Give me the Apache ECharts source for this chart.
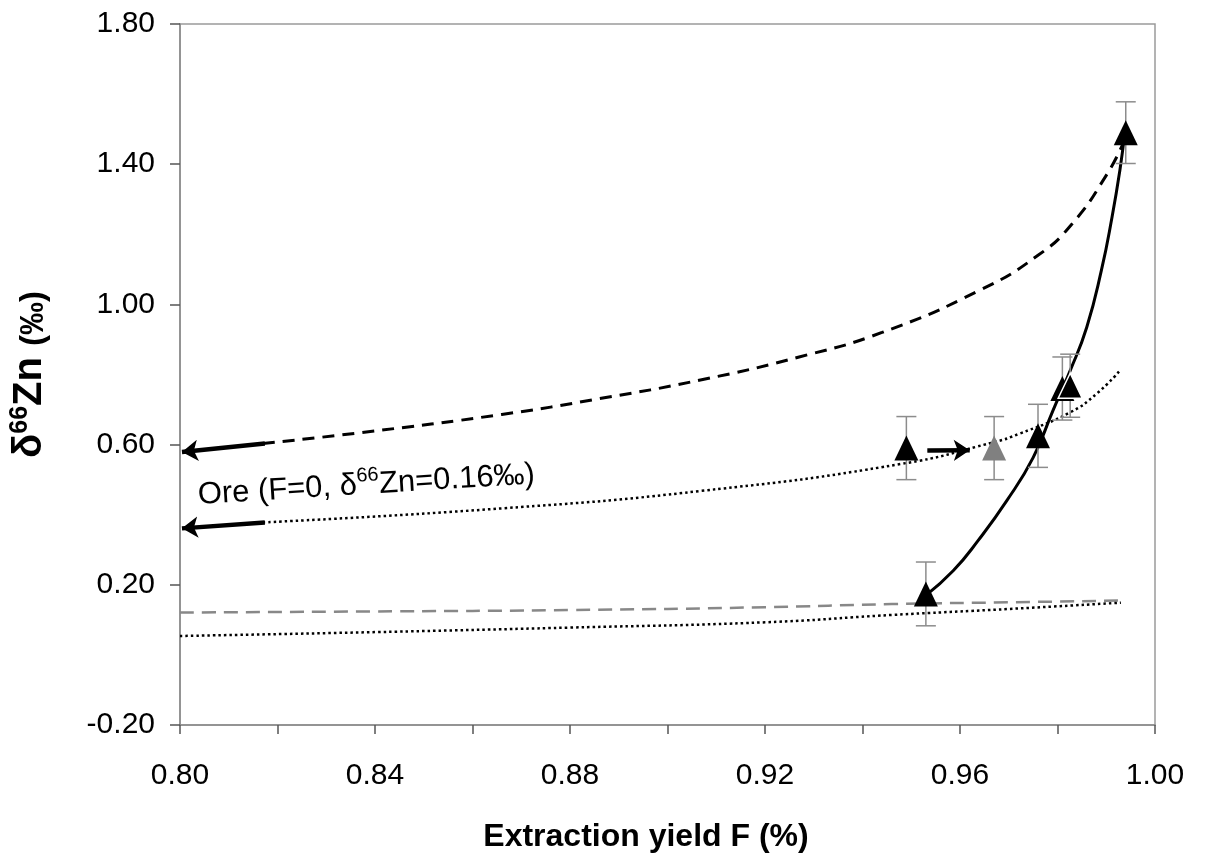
<!DOCTYPE html>
<html>
<head>
<meta charset="utf-8">
<script src="https://cdn.jsdelivr.net/npm/echarts@6/dist/echarts.min.js"></script>
<style>
  html, body { margin: 0; padding: 0; background: #fff; }
  #chart { width: 1206px; height: 861px; }
</style>
</head>
<body>
<div id="chart"></div>
<script>
// ---- data ----
const xTickLabels = ['0.80', '0.84', '0.88', '0.92', '0.96', '1.00'];
const yTickLabels = ['-0.20', '0.20', '0.60', '1.00', '1.40', '1.80'];

// upper dashed model curve
const dashedUpperF = [0.817, 0.837, 0.866, 0.886, 0.907, 0.927, 0.944, 0.964, 0.976, 0.983, 0.990, 0.9935];
const dashedUpperD = [0.603, 0.634, 0.686, 0.731, 0.785, 0.850, 0.920, 1.040, 1.140, 1.230, 1.368, 1.460];

// upper dotted model curve
const dottedUpperF = [0.817, 0.866, 0.907, 0.948, 0.967, 0.972, 0.9826, 0.9881, 0.9928];
const dottedUpperD = [0.378, 0.418, 0.468, 0.545, 0.607, 0.630, 0.692, 0.746, 0.811];

// solid curve through the measurements
const solidF = [0.953, 0.9586, 0.9637, 0.9696, 0.9750, 0.9790, 0.9826, 0.9860, 0.9890, 0.9912, 0.9928, 0.9938];
const solidD = [0.170, 0.240, 0.326, 0.440, 0.563, 0.695, 0.811, 0.935, 1.097, 1.250, 1.383, 1.490];

// lower grey dashed curve
const dashedLowerF = [0.80, 0.84, 0.88, 0.92, 0.946, 0.97, 0.993];
const dashedLowerD = [0.121, 0.124, 0.128, 0.136, 0.145, 0.150, 0.155];

// lower dotted curve
const dottedLowerF = [0.80, 0.84, 0.88, 0.92, 0.946, 0.97, 0.993];
const dottedLowerD = [0.054, 0.065, 0.078, 0.093, 0.114, 0.131, 0.149];

// measurements (black triangles)
const blackF   = [0.949, 0.953, 0.976, 0.981, 0.9826, 0.994];
const blackD   = [0.590, 0.174, 0.625, 0.760, 0.768, 1.490];
const blackErr = [0.090, 0.091, 0.090, 0.090, 0.090, 0.088];

// shifted measurement (grey triangle)
const greyF   = [0.967];
const greyD   = [0.590];
const greyErr = [0.090];

// arrows: [fromF, fromD, toF, toD]
const arrows = [
  [0.8174, 0.603, 0.8004, 0.579],
  [0.8174, 0.378, 0.8004, 0.361],
  [0.9533, 0.583, 0.9620, 0.584]
];

const oreAnchor = [0.8382, 0.490];

// ---- build chart ----
const zip = (a, b) => a.map((v, i) => [v, b[i]]);
const errData = blackF.map((f, i) => [f, blackD[i] + blackErr[i], blackD[i] - blackErr[i]])
  .concat(greyF.map((f, i) => [f, greyD[i] + greyErr[i], greyD[i] - greyErr[i]]));

const FONT = '"Liberation Sans", Arial, sans-serif';

const chart = echarts.init(document.getElementById('chart'), null, { renderer: 'canvas' });

const option = {
  animation: false,
  backgroundColor: '#fff',
  grid: {
    left: 180, top: 24, right: 51, bottom: 136,
    show: true, borderColor: '#9a9a9a', borderWidth: 1.5, backgroundColor: 'transparent'
  },
  xAxis: {
    type: 'value', min: 0.80, max: 1.00, interval: 0.02,
    axisLine: { show: true, onZero: false, lineStyle: { color: '#8a8a8a', width: 1.5 } },
    axisTick: { show: true, inside: false, length: 9, lineStyle: { color: '#555', width: 1.5 } },
    splitLine: { show: false },
    axisLabel: {
      margin: 36, fontSize: 30, color: '#000', fontFamily: FONT,
      formatter: v => { const s = v.toFixed(2); return xTickLabels.indexOf(s) >= 0 ? s : ''; }
    },
    name: 'Extraction yield F (%)',
    nameLocation: 'middle', nameGap: 96,
    nameTextStyle: { fontSize: 32, fontWeight: 'bold', color: '#000', fontFamily: FONT, padding: [0, 43, 0, 0] }
  },
  yAxis: {
    type: 'value', min: -0.20, max: 1.80, interval: 0.40,
    axisLine: { show: true, onZero: false, lineStyle: { color: '#8a8a8a', width: 1.5 } },
    axisTick: { show: true, inside: false, length: 10, lineStyle: { color: '#555', width: 1.5 } },
    splitLine: { show: false },
    axisLabel: {
      margin: 25, fontSize: 30, color: '#000', fontFamily: FONT,
      formatter: v => { const s = v.toFixed(2); return yTickLabels.indexOf(s) >= 0 ? s : ''; }
    },
    name: '{d|δ}{s|66}{d|Zn }{p|(‰)}',
    nameLocation: 'middle', nameGap: 130,
    nameTextStyle: {
      fontFamily: FONT, color: '#000',
      rich: {
        d: { fontSize: 40, fontWeight: 'bold', fontFamily: FONT, color: '#000', verticalAlign: 'bottom', lineHeight: 42 },
        s: { fontSize: 25, fontWeight: 'bold', fontFamily: FONT, color: '#000', verticalAlign: 'top', lineHeight: 25 },
        p: { fontSize: 33, fontWeight: 'bold', fontFamily: FONT, color: '#000', verticalAlign: 'bottom', lineHeight: 38 }
      }
    }
  },
  series: [
    {
      name: 'dashedUpper', type: 'line', data: zip(dashedUpperF, dashedUpperD),
      smooth: 0.5, showSymbol: false, silent: true, z: 2,
      lineStyle: { color: '#000', width: 3, type: [12, 8] }
    },
    {
      name: 'dottedUpper', type: 'line', data: zip(dottedUpperF, dottedUpperD),
      smooth: 0.5, showSymbol: false, silent: true, z: 2,
      lineStyle: { color: '#000', width: 2.5, type: [2.5, 3] }
    },
    {
      name: 'solid', type: 'line', data: zip(solidF, solidD),
      smooth: 0.5, showSymbol: false, silent: true, z: 2,
      lineStyle: { color: '#000', width: 3 }
    },
    {
      name: 'dashedLower', type: 'line', data: zip(dashedLowerF, dashedLowerD),
      smooth: 0.5, showSymbol: false, silent: true, z: 2,
      lineStyle: { color: '#888', width: 2.5, type: [14, 8] }
    },
    {
      name: 'dottedLower', type: 'line', data: zip(dottedLowerF, dottedLowerD),
      smooth: 0.5, showSymbol: false, silent: true, z: 2,
      lineStyle: { color: '#000', width: 2.5, type: [2.5, 3] }
    },
    {
      name: 'arrows', type: 'lines', coordinateSystem: 'cartesian2d', silent: true, z: 4,
      symbol: ['none', 'arrow'], symbolSize: 16,
      lineStyle: { color: '#000', width: 4.5, opacity: 1, curveness: 0 },
      data: arrows.map(a => ({ coords: [[a[0], a[1]], [a[2], a[3]]] }))
    },
    {
      name: 'errors', type: 'custom', silent: true, z: 3,
      data: errData,
      renderItem: (params, api) => {
        const x = api.value(0);
        const top = api.coord([x, api.value(1)]);
        const bot = api.coord([x, api.value(2)]);
        const hw = 10;
        const st = { stroke: '#8c8c8c', lineWidth: 1.5 };
        return {
          type: 'group',
          children: [
            { type: 'line', shape: { x1: top[0], y1: top[1], x2: bot[0], y2: bot[1] }, style: st },
            { type: 'line', shape: { x1: top[0] - hw, y1: top[1], x2: top[0] + hw, y2: top[1] }, style: st },
            { type: 'line', shape: { x1: bot[0] - hw, y1: bot[1], x2: bot[0] + hw, y2: bot[1] }, style: st }
          ]
        };
      }
    },
    {
      name: 'measured', type: 'scatter', silent: true, z: 5,
      symbol: 'triangle', symbolSize: [24, 25],
      itemStyle: { color: '#000', opacity: 1 },
      data: zip(blackF, blackD).map((p, i) => ({
        value: p,
        itemStyle: i === 4 ? { color: '#000', opacity: 1, borderColor: '#fff', borderWidth: 1.5 } : { color: '#000', opacity: 1 }
      }))
    },
    {
      name: 'shifted', type: 'scatter', silent: true, z: 5,
      symbol: 'triangle', symbolSize: [24, 25],
      itemStyle: { color: '#808080', opacity: 1 },
      data: zip(greyF, greyD)
    },
    {
      name: 'oreLabel', type: 'scatter', silent: true, z: 6,
      symbolSize: 0,
      itemStyle: { opacity: 1 },
      data: [oreAnchor],
      label: {
        show: true, position: 'inside', rotate: 3.5, color: '#000', opacity: 1,
        formatter: '{t|Ore (F=0, δ}{s|66}{t|Zn=0.16‰)}',
        rich: {
          t: { fontSize: 31, fontFamily: FONT, color: '#000', verticalAlign: 'bottom', lineHeight: 35 },
          s: { fontSize: 20, fontFamily: FONT, color: '#000', verticalAlign: 'top', lineHeight: 20 }
        }
      }
    }
  ]
};

chart.setOption(option);
</script>
</body>
</html>
